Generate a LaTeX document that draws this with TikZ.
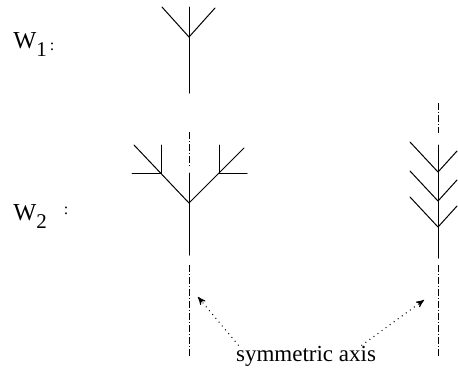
\documentclass[tikz,border=0pt]{standalone}
\usepackage{fontspec}
\setmainfont{Liberation Serif}
\usepackage{tikz}
\usetikzlibrary{arrows}
\usetikzlibrary{positioning}
\tikzset{axis/.style = {line width = 0.5pt, dash pattern = on 3.5pt off 1pt on 0.5pt off 1pt}}
\tikzset{branch/.style = {line width = 0.5pt, line cap = round}}
\tikzset{pointer/.style = {dotted, line width = 0.5pt, -stealth'}}
\tikzset{lbl/.style = {inner sep = 0, font = \fontsize{11.5}{14}\selectfont}}
\tikzset{wlbl/.style = {inner sep = 0, anchor = base west, font = \fontsize{12.2}{14}\selectfont}}
\newcommand{\wsub}[1]{\raisebox{-4pt}{\fontsize{10.5}{12}\selectfont #1}}
\newcommand{\wcolon}[1]{\raisebox{#1}{\fontsize{8}{9}\selectfont :}}

\begin{document}
\begin{tikzpicture}[x = 0.5pt, y = -0.5pt]
    \useasboundingbox (0, 0) rectangle (458, 372);

    % W_1
    \node [wlbl] (w1) at (13, 48) {W\wsub{1}\hspace{1.5pt}\wcolon{-1pt}};
    \draw [branch] (189, 7) -- (189, 93);
    \draw [branch] (162, 7) -- (189, 37) -- (215, 8);

    % W_2, left tree
    \node [wlbl] (w2) at (13, 220) {W\wsub{2}\hspace{8.5pt}\wcolon{3pt}};
    \draw [axis] (189, 132) -- (189, 166);
    \draw [branch] (189, 173) -- (189, 255);
    \draw [branch] (134, 145) -- (189, 203) -- (244, 148);
    \draw [branch] (161, 145) -- (161, 173) -- (132, 173);
    \draw [branch] (219, 145) -- (219, 173) -- (247, 173);
    \draw [axis] (189, 265) -- (189, 357);

    % W_2, right tree
    \draw [axis] (438, 103) -- (438, 133);
    \draw [branch] (438, 145) -- (438, 258);
    \foreach \y in {172, 201, 227}
      \draw [branch] (410, \y - 30) -- (438, \y) -- (457, \y - 21);
    \draw [axis] (438, 265) -- (438, 356);

    \coordinate (laxis) at (198, 297);
    \coordinate (raxis) at (424, 300);
    \node [lbl] (sym) at (306, 356) {symmetric axis};
    \draw [pointer] (sym.north west) ++(3, 0) -- (laxis);
    \draw [pointer] (sym.north east) ++(-15, 0) -- (raxis);
  \end{tikzpicture}
\end{document}
